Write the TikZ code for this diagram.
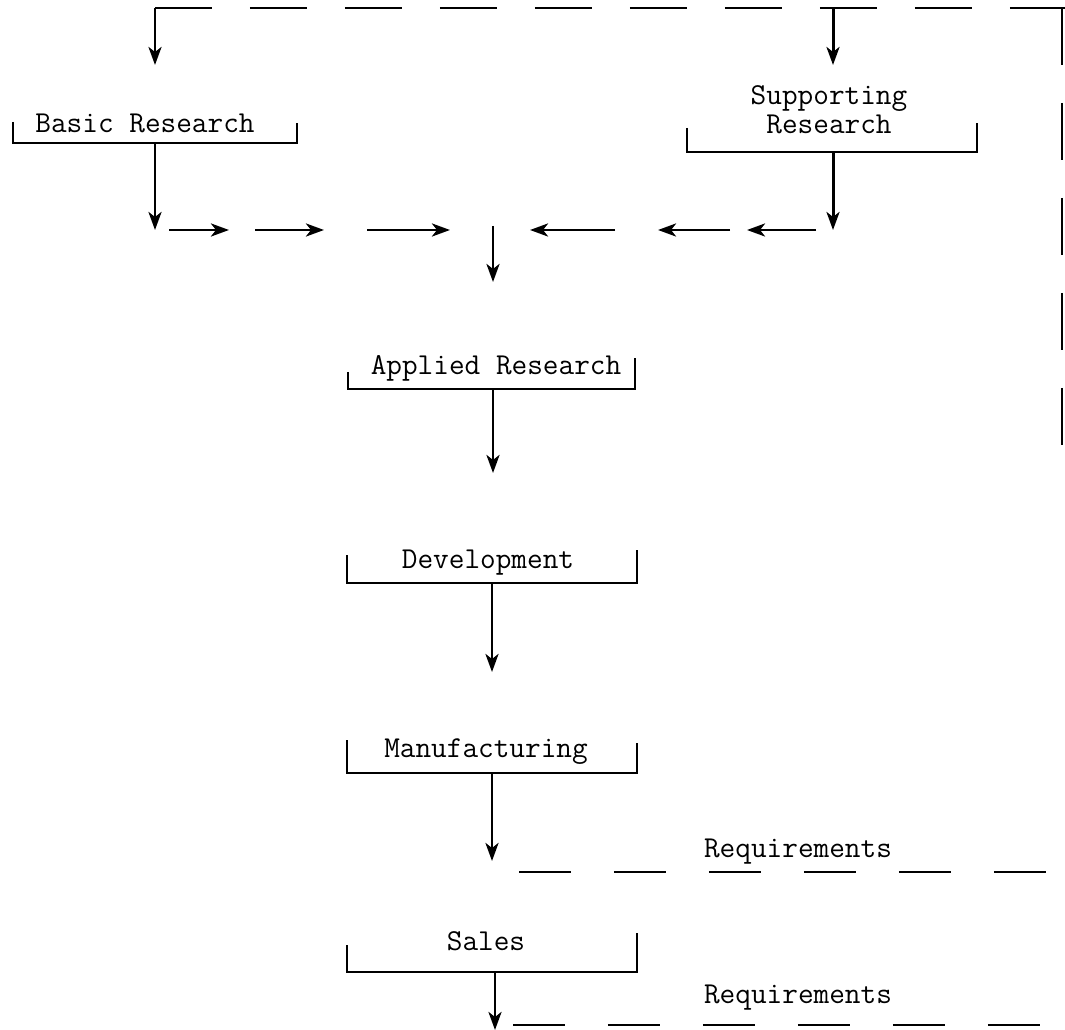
\documentclass[tikz,border=0pt]{standalone}
\usetikzlibrary{arrows.meta}
\begin{document}
\begin{tikzpicture}[x=0.02cm,y=-0.02cm,
  lbl/.style={font=\ttfamily\fontsize{17.3}{17}\selectfont, anchor=base, inner sep=0pt},
  bracket/.style={line width=1.6pt},
  flow/.style={line width=1.7pt, -{Stealth[length=0.36cm,width=0.26cm,inset=0.1cm]}},
  fb/.style={line width=1.4pt, dash pattern=on 1.15cm off 0.75cm},
  req/.style={line width=1.4pt, dash pattern=on 1.05cm off 0.85cm}]
\path[use as bounding box] (0,0) rectangle (1065,1030);

% ---------- labels ----------
\node[lbl] (basic) at (145,133) {Basic Research};
\node[lbl, align=center] (supp) at (829,134) {Supporting\\Research};
\node[lbl] (applied) at (496,375) {Applied Research};
\node[lbl] (dev) at (488,568) {Development};
\node[lbl] (manuf) at (486,757) {Manufacturing};
\node[lbl] (sales) at (486,950) {Sales};
\node[lbl] (req1) at (798,857) {Requirements};
\node[lbl] (req2) at (798,1003) {Requirements};

% ---------- brackets ----------
\draw[bracket] (13,122) -- (13,143) -- (297,143) -- (297,123);
\draw[bracket] (687,128) -- (687,152) -- (977,152) -- (977,123);
\draw[bracket] (348,372) -- (348,389) -- (635,389) -- (635,358);
\draw[bracket] (347,555) -- (347,583) -- (637,583) -- (637,550);
\draw[bracket] (347,740) -- (347,773) -- (637,773) -- (637,743);
\draw[bracket] (347,945) -- (347,972) -- (637,972) -- (637,933);

% ---------- coordinates ----------
\coordinate (topL) at (155,8);
\coordinate (topM) at (833,8);
\coordinate (topR) at (1065,8);
\coordinate (rightBot) at (1062,475);
\coordinate (rightTop) at (1062,8);
\coordinate (basicIn) at (155,65);
\coordinate (suppIn) at (833,65);
\coordinate (basicOut) at (155,143);
\coordinate (suppOut) at (833,152);
\coordinate (basicJ) at (155,230);
\coordinate (suppJ) at (833,230);
\coordinate (r1a) at (169,230); \coordinate (r1b) at (229,230);
\coordinate (r2a) at (255,230); \coordinate (r2b) at (324,230);
\coordinate (r3a) at (367,230); \coordinate (r3b) at (450,230);
\coordinate (l1a) at (816,230); \coordinate (l1b) at (747,230);
\coordinate (l2a) at (730,230); \coordinate (l2b) at (658,230);
\coordinate (l3a) at (615,230); \coordinate (l3b) at (530,230);
\coordinate (cA) at (493,226); \coordinate (cB) at (493,282);
\coordinate (appOut) at (493,389); \coordinate (appTo) at (493,473);
\coordinate (devOut) at (492,583); \coordinate (devTo) at (492,672);
\coordinate (manOut) at (492,773); \coordinate (manTo) at (492,861);
\coordinate (salOut) at (495,972); \coordinate (salTo) at (495,1030);
\coordinate (q1a) at (519,872); \coordinate (q1b) at (1065,872);
\coordinate (q2a) at (513,1025); \coordinate (q2b) at (1065,1025);

% ---------- feedback lines ----------
\draw[fb] (topL) -- (topR);
\draw[fb] (rightTop) -- (rightBot);
\draw[flow] (topL) -- (basicIn);
\draw[flow] (topM) -- (suppIn);
\draw[req] (q1a) -- (q1b);
\draw[req] (q2a) -- (q2b);

% ---------- flow ----------
\draw[flow] (basicOut) -- (basicJ);
\draw[flow] (suppOut) -- (suppJ);
\draw[flow] (r1a) -- (r1b);
\draw[flow] (r2a) -- (r2b);
\draw[flow] (r3a) -- (r3b);
\draw[flow] (l1a) -- (l1b);
\draw[flow] (l2a) -- (l2b);
\draw[flow] (l3a) -- (l3b);
\draw[flow] (cA) -- (cB);
\draw[flow] (appOut) -- (appTo);
\draw[flow] (devOut) -- (devTo);
\draw[flow] (manOut) -- (manTo);
\draw[flow] (salOut) -- (salTo);
\end{tikzpicture}
\end{document}
